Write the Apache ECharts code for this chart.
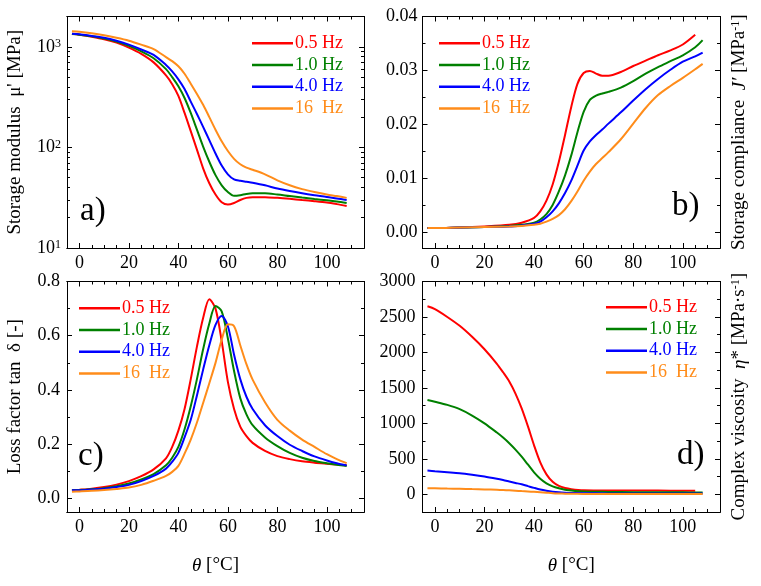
<!DOCTYPE html>
<html><head><meta charset="utf-8">
<script src="https://cdn.jsdelivr.net/npm/echarts@6/dist/echarts.min.js"></script>
<style>html,body{margin:0;padding:0;background:#fff}#c{width:761px;height:586px}</style>
</head><body><div id="c"></div>
<script>
// ---------- data ----------
const freqs = ['0.5 Hz', '1.0 Hz', '4.0 Hz', '16  Hz'];
const colors = ['#FF0000', '#008000', '#0000FF', '#FF8C1A'];

const xMajor = [0, 20, 40, 60, 80, 100];
const xMinor = [5, 10, 15, 25, 30, 35, 45, 50, 55, 65, 70, 75, 85, 90, 95, 105, 110];

// a) storage modulus (MPa, log)
const tempA = [-3, 0, 5, 10, 15, 20, 25, 30, 35, 37.5, 40, 42.5, 45, 47.5, 50, 52.5, 55, 57.5, 60, 62.5, 65, 67.5, 70, 75, 80, 85, 90, 95, 100, 104, 108];
const modulus05 = [1350, 1320, 1260, 1190, 1100, 980, 850, 700, 520, 425, 325, 220, 145, 95, 62, 44, 34, 28.5, 27, 28, 30, 31.5, 32, 32, 31.5, 30.8, 30, 29.2, 28.3, 27.3, 26.2];
const modulus10 = [1340, 1320, 1270, 1210, 1130, 1020, 900, 770, 600, 500, 405, 310, 220, 150, 102, 72, 53, 42, 36, 33, 33.5, 34.5, 35, 35, 34, 32.8, 31.7, 30.7, 29.8, 29, 28];
const modulus40 = [1350, 1330, 1280, 1230, 1150, 1050, 940, 830, 660, 570, 475, 380, 285, 215, 160, 118, 87, 66, 54, 48, 46.5, 45.5, 44.5, 42, 39, 36.8, 35, 33.5, 32.2, 31, 30];
const modulus16 = [1430, 1410, 1360, 1300, 1230, 1150, 1050, 950, 790, 720, 640, 540, 430, 340, 265, 200, 150, 115, 92, 77, 68, 63, 60, 54, 47, 42, 38.5, 36, 34, 32.8, 31.5];
const modMajor = [10, 100, 1000];
const modMinor = [20, 30, 40, 50, 60, 70, 80, 90, 200, 300, 400, 500, 600, 700, 800, 900];

// b) storage compliance (1/MPa)
const tempB = [-3, 0, 10, 20, 30, 35, 40, 42.5, 45, 47.5, 50, 52.5, 55, 57.5, 60, 62.5, 65, 67.5, 70, 75, 80, 85, 90, 95, 100, 105, 108];
const tempB05 = [-3, 0, 10, 20, 30, 35, 40, 42.5, 45, 47.5, 50, 52.5, 55, 57.5, 60, 62.5, 65, 67.5, 70, 75, 80, 85, 90, 95, 100, 105];
const compl05 = [0.0007, 0.0007, 0.0008, 0.001, 0.0013, 0.0017, 0.0026, 0.0038, 0.0058, 0.0088, 0.013, 0.018, 0.0232, 0.0275, 0.0295, 0.0299, 0.0294, 0.029, 0.029, 0.0297, 0.0308, 0.0318, 0.0328, 0.0337, 0.0348, 0.0366];
const compl10 = [0.0007, 0.0007, 0.0008, 0.0009, 0.0011, 0.0013, 0.0017, 0.0023, 0.0033, 0.005, 0.0075, 0.0105, 0.0142, 0.0185, 0.0223, 0.0245, 0.0253, 0.0257, 0.026, 0.0268, 0.028, 0.0294, 0.0306, 0.0317, 0.0328, 0.0343, 0.0356];
const compl40 = [0.0007, 0.0007, 0.0008, 0.0009, 0.001, 0.0012, 0.0015, 0.0019, 0.0027, 0.0038, 0.0053, 0.0072, 0.0095, 0.0123, 0.0151, 0.0168, 0.018, 0.019, 0.0201, 0.0222, 0.0244, 0.0265, 0.0284, 0.0301, 0.0316, 0.0326, 0.0333];
const compl16 = [0.0007, 0.0007, 0.0008, 0.0009, 0.001, 0.0011, 0.0013, 0.0015, 0.0019, 0.0024, 0.0031, 0.0042, 0.0057, 0.0075, 0.0095, 0.0112, 0.0126, 0.0137, 0.0148, 0.0172, 0.0201, 0.023, 0.0254, 0.0271, 0.0286, 0.0302, 0.0312];
const complMajor = [0, 0.01, 0.02, 0.03, 0.04];
const complMinor = [0.005, 0.015, 0.025, 0.035];

// c) loss factor tan delta
const tempC = [-3, 0, 5, 10, 15, 20, 25, 30, 35, 37.5, 40, 42.5, 45, 47.5, 50, 52.5, 55, 57.5, 60, 62.5, 65, 67.5, 70, 75, 80, 85, 90, 95, 100, 104, 108];
const loss05 = [0.030, 0.032, 0.036, 0.042, 0.051, 0.064, 0.082, 0.107, 0.148, 0.19, 0.25, 0.33, 0.44, 0.56, 0.665, 0.735, 0.70, 0.58, 0.43, 0.33, 0.265, 0.23, 0.205, 0.175, 0.156, 0.145, 0.137, 0.132, 0.128, 0.125, 0.122];
const loss10 = [0.030, 0.031, 0.034, 0.038, 0.045, 0.055, 0.070, 0.09, 0.122, 0.15, 0.19, 0.255, 0.34, 0.44, 0.55, 0.645, 0.71, 0.69, 0.59, 0.47, 0.37, 0.31, 0.27, 0.225, 0.193, 0.168, 0.15, 0.138, 0.13, 0.124, 0.12];
const loss40 = [0.030, 0.030, 0.033, 0.036, 0.042, 0.05, 0.064, 0.083, 0.11, 0.135, 0.168, 0.225, 0.29, 0.38, 0.475, 0.565, 0.64, 0.673, 0.635, 0.53, 0.44, 0.375, 0.33, 0.27, 0.23, 0.198, 0.175, 0.155, 0.14, 0.13, 0.122];
const loss16 = [0.025, 0.026, 0.028, 0.031, 0.035, 0.04, 0.05, 0.065, 0.083, 0.098, 0.12, 0.165, 0.217, 0.28, 0.352, 0.425, 0.5, 0.585, 0.642, 0.635, 0.565, 0.495, 0.438, 0.355, 0.29, 0.25, 0.217, 0.19, 0.163, 0.145, 0.13];
const lossMajor = [0, 0.2, 0.4, 0.6, 0.8];
const lossMinor = [0.1, 0.3, 0.5, 0.7];

// d) complex viscosity
const tempD = [-3, 0, 5, 10, 15, 20, 25, 27.5, 30, 32.5, 35, 37.5, 40, 42.5, 45, 47.5, 50, 52.5, 55, 60, 70, 80, 90, 100, 105, 108];
const tempD05 = [-3, 0, 5, 10, 15, 20, 25, 27.5, 30, 32.5, 35, 37.5, 40, 42.5, 45, 47.5, 50, 52.5, 55, 60, 70, 80, 90, 100, 105];
const visc05 = [2650, 2610, 2500, 2375, 2220, 2045, 1840, 1720, 1590, 1420, 1210, 960, 690, 450, 280, 175, 118, 88, 72, 56, 52, 52, 52, 50, 48];
const visc10 = [1330, 1305, 1260, 1200, 1110, 1000, 870, 800, 720, 630, 530, 420, 310, 220, 155, 112, 85, 65, 52, 38, 33, 30, 28, 27, 26, 25];
const visc40 = [335, 325, 312, 298, 276, 250, 218, 200, 180, 160, 140, 115, 90, 67, 50, 37, 28, 22, 18, 15, 12, 11, 10, 10, 10, 10];
const visc16 = [85, 84, 80, 77, 73, 69, 63, 59, 55, 50, 45, 40, 34, 28, 22, 16, 12, 9, 7, 5, 4, 3, 3, 3, 3, 3];
const viscMajor = [0, 500, 1000, 1500, 2000, 2500, 3000];
const viscMinor = [250, 750, 1250, 1750, 2250, 2750];

// ---------- chart ----------
const SERIF = "'Liberation Serif', 'Times New Roman', serif";
const pairs = (xs, ys) => xs.map((x, i) => [x, ys[i]]);

const grids = [
  {left: 67, top: 16.5, width: 297, height: 231.5},
  {left: 422.5, top: 16.5, width: 297.5, height: 231.5},
  {left: 67, top: 281.5, width: 297, height: 230.5},
  {left: 422.5, top: 281.5, width: 297.5, height: 230.5}
];

const nameStyle = {
  fontFamily: SERIF, fontSize: 19, color: '#000',
  rich: {
    i: {fontFamily: SERIF, fontSize: 19, fontStyle: 'italic', color: '#000'},
    s: {fontFamily: SERIF, fontSize: 12, verticalAlign: 'top', color: '#000'}
  }
};
const labelStyle = {fontFamily: SERIF, fontSize: 18, color: '#000'};
const lineBlack = {show: true, onZero: false, lineStyle: {color: '#000', width: 1}};

function makeAxes(gi, dim, common, major, minor, labelOpts, nameOpts) {
  const sides = dim === 'x' ? ['bottom', 'top'] : ['left', 'right'];
  const out = [];
  sides.forEach((side, si) => {
    [major, minor].forEach((vals, mi) => {
      const ax = Object.assign({
        gridIndex: gi, position: side,
        splitLine: {show: false},
        axisLine: lineBlack,
        axisTick: {show: true, inside: true, length: mi === 0 ? 5 : 3, customValues: vals, lineStyle: {color: '#000', width: 1}},
        axisLabel: {show: false}
      }, common);
      if (si === 0 && mi === 0 && labelOpts) {
        ax.axisLabel = Object.assign({show: true, customValues: major}, labelStyle, labelOpts);
      }
      if (nameOpts && nameOpts.side === side && mi === 0) {
        Object.assign(ax, {name: nameOpts.text, nameLocation: 'middle', nameGap: nameOpts.gap, nameTextStyle: nameStyle});
        if (nameOpts.rotate !== undefined) ax.nameRotate = nameOpts.rotate;
      }
      out.push(ax);
    });
  });
  return out;
}

const xCommon = {type: 'value', min: -5, max: 115};
const thetaName = '{i|θ} [°C]';
let xAxis = [];
for (let g = 0; g < 4; g++) {
  xAxis = xAxis.concat(makeAxes(g, 'x', xCommon, xMajor, xMinor, {margin: 6},
    g >= 2 ? {side: 'bottom', text: thetaName, gap: 44} : null));
}

let yAxis = [];
yAxis = yAxis.concat(makeAxes(0, 'y', {type: 'log', logBase: 10, min: 10, max: 2000}, modMajor, modMinor,
  {margin: 6, formatter: v => '10{s|' + Math.round(Math.log10(v)) + '}',
   rich: {s: {fontFamily: SERIF, fontSize: 12, verticalAlign: 'top', color: '#000'}}},
  {side: 'left', text: "Storage modulus  μ' [MPa]", gap: 42}));
yAxis = yAxis.concat(makeAxes(1, 'y', {type: 'value', min: -0.003, max: 0.04}, complMajor, complMinor,
  {margin: 5, formatter: v => v.toFixed(2)},
  {side: 'right', text: "Storage compliance  {i|J′} [MPa{s|-1}]", gap: 10, rotate: 90}));
yAxis = yAxis.concat(makeAxes(2, 'y', {type: 'value', min: -0.05, max: 0.8}, lossMajor, lossMinor,
  {margin: 7, formatter: v => v.toFixed(1)},
  {side: 'left', text: "Loss factor tan  δ [-]", gap: 42}));
yAxis = yAxis.concat(makeAxes(3, 'y', {type: 'value', min: -250, max: 3000}, viscMajor, viscMinor,
  {margin: 7, formatter: v => String(v)},
  {side: 'right', text: "Complex viscosity  {i|η}* [MPa·s{s|-1}]", gap: 10, rotate: 90}));

const panelData = [
  [[tempA, modulus05], [tempA, modulus10], [tempA, modulus40], [tempA, modulus16]],
  [[tempB05, compl05], [tempB, compl10], [tempB, compl40], [tempB, compl16]],
  [[tempC, loss05], [tempC, loss10], [tempC, loss40], [tempC, loss16]],
  [[tempD05, visc05], [tempD, visc10], [tempD, visc40], [tempD, visc16]]
];

const series = [];
panelData.forEach((panel, g) => {
  panel.forEach(([xs, ys], k) => {
    series.push({
      type: 'line', name: freqs[k],
      xAxisIndex: g * 4, yAxisIndex: g * 4,
      data: pairs(xs, ys),
      showSymbol: false, symbol: 'none',
      smooth: 0.3,
      lineStyle: {width: 2, color: colors[k]},
      itemStyle: {color: colors[k]},
      z: 3 + k
    });
  });
});

const legendPos = [
  {left: 252, top: 34.3}, {left: 439, top: 34.3}, {left: 79, top: 299.3}, {left: 606, top: 298.3}
];
const legend = legendPos.map(p => Object.assign({
  orient: 'vertical', padding: 0, itemWidth: 41, itemHeight: 2.5, itemGap: 3.7,
  icon: 'rect', selectedMode: false,
  textStyle: {fontFamily: SERIF, fontSize: 18, lineHeight: 18, padding: [0, 0, 0, -3]},
  data: freqs.map((f, i) => ({name: f, textStyle: {color: colors[i]}}))
}, p));

const panelLabels = [
  {text: 'a)', left: 80, top: 195},
  {text: 'b)', left: 672, top: 190},
  {text: 'c)', left: 78, top: 440},
  {text: 'd)', left: 677, top: 439}
];
const title = panelLabels.map(p => ({
  text: p.text, left: p.left, top: p.top, padding: 0,
  textStyle: {fontFamily: SERIF, fontSize: 33, fontWeight: 'normal', color: '#000'}
}));

const chart = echarts.init(document.getElementById('c'), null, {renderer: 'canvas'});
chart.setOption({
  animation: false,
  backgroundColor: '#fff',
  title, legend,
  grid: grids,
  xAxis, yAxis, series
});
</script></body></html>
